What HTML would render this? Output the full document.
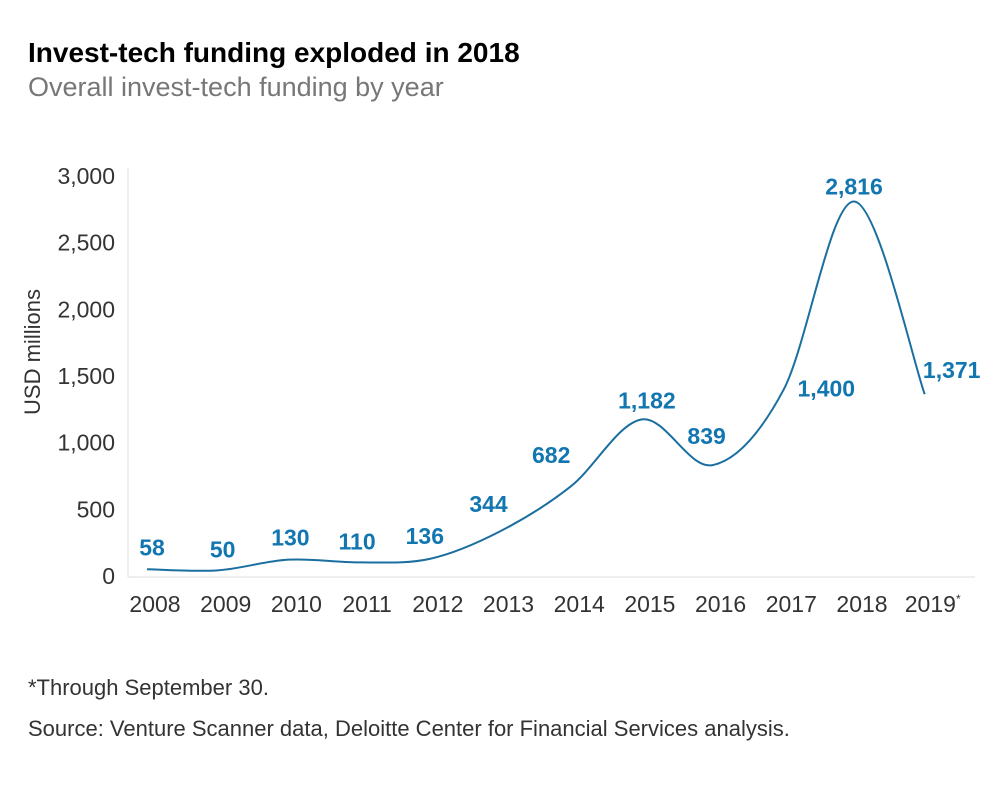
<!DOCTYPE html>
<html><head><meta charset="utf-8">
<style>
body{margin:0;background:#fff;width:1000px;height:783px;overflow:hidden;font-family:"Liberation Sans",sans-serif}
</style></head>
<body>
<svg width="1000" height="783" viewBox="0 0 1000 783">
<text x="28" y="62" font-size="28" font-weight="bold" fill="#000">Invest-tech funding exploded in 2018</text>
<text x="28" y="96" font-size="27" fill="#777">Overall invest-tech funding by year</text>
<g id="axes"></g>
<path id="line" fill="none" stroke="#1a6fa0" stroke-width="2"></path>
<g id="labels"></g>
<text x="28" y="695" font-size="22" fill="#333">*Through September 30.</text>
<text x="28" y="736" font-size="22" fill="#333">Source: Venture Scanner data, Deloitte Center for Financial Services analysis.</text>
</svg>
<script>
const categories=["2008","2009","2010","2011","2012","2013","2014","2015","2016","2017","2018","2019"];
const values=[58,50,130,110,136,344,682,1182,839,1400,2816,1371];
const valueLabels=["58","50","130","110","136","344","682","1,182","839","1,400","2,816","1,371"];
const yTicks=[0,500,1000,1500,2000,2500,3000];
const yTickLabels=["0","500","1,000","1,500","2,000","2,500","3,000"];
const NS="http://www.w3.org/2000/svg";
const x=i=>147+i*70.7;
const y=v=>577-v*400/3000;
const ax=document.getElementById('axes');
function mk(tag,attrs,parent,text){const e=document.createElementNS(NS,tag);for(const k in attrs)e.setAttribute(k,attrs[k]);if(text!==undefined)e.textContent=text;parent.appendChild(e);return e;}
let e=mk('line',{x1:128,y1:168,x2:128,y2:577,stroke:'#ddd','stroke-width':1},ax);


e=mk('line',{x1:128,y1:577,x2:975,y2:577,stroke:'#ddd','stroke-width':1},ax);


yTicks.forEach((t,i)=>{
  const el=mk('text',{x:115,y:y(t)+7,'font-size':23,fill:'#333','text-anchor':'end'},ax,yTickLabels[i]);
  
  
});
e=mk('text',{transform:'translate(40,352) rotate(-90)','font-size':22,fill:'#333','text-anchor':'middle'},ax,'USD millions');


categories.forEach((c,i)=>{
  const el=mk('text',{x:x(i)+8,y:612,'font-size':23,fill:'#333','text-anchor':'middle'},ax,c);
  
  
  if(i===categories.length-1){mk('tspan',{'font-size':12,dy:-9},el,'*');}
});
const pts=values.map((v,i)=>[x(i),y(v)]);
let d=`M${pts[0][0]},${pts[0][1]}`;
for(let i=0;i<pts.length-1;i++){
  const p0=pts[i-1]||pts[i],p1=pts[i],p2=pts[i+1],p3=pts[i+2]||p2;
  const t=0.5/3;
  d+=` C${p1[0]+(p2[0]-p0[0])*t},${p1[1]+(p2[1]-p0[1])*t} ${p2[0]-(p3[0]-p1[0])*t},${p2[1]-(p3[1]-p1[1])*t} ${p2[0]},${p2[1]}`;
}
document.getElementById('line').setAttribute('d',d);
const off=[[5,-14],[5,-13],[2,-14],[-2,-13],[-5,-15],[-12,-19],[-20,-23],[5,-11],[-6,-21],[43,6],[0,-7],[27,-16]];
const lg=document.getElementById('labels');
values.forEach((v,i)=>{
  const el=mk('text',{x:pts[i][0]+off[i][0],y:pts[i][1]+off[i][1],'font-size':23,'font-weight':'bold',fill:'#1276b0','text-anchor':'middle'},lg,valueLabels[i]);
  
  
});
</script>
</body></html>
